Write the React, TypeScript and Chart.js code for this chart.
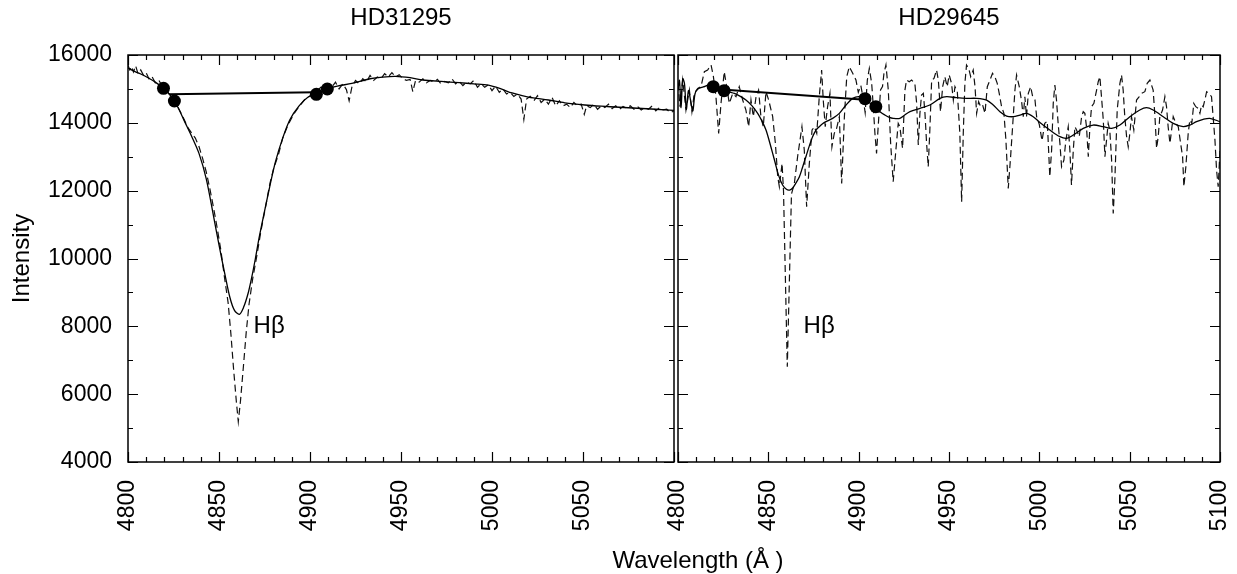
import React, { useEffect, useRef } from "react";
import { Chart, registerables } from "chart.js";

Chart.register(...registerables);

const FONT = "'Liberation Sans', Arial, Helvetica, sans-serif";

// ---------- text ----------
const PANEL_TITLES = ["HD31295", "HD29645"];
const LINE_LABEL = "Hβ";
const X_TITLE = "Wavelength (Å )";
const Y_TITLE = "Intensity";

// ---------- ticks ----------
const X_TICKS = [4800, 4850, 4900, 4950, 5000, 5050, 5100];
const Y_TICKS = [4000, 6000, 8000, 10000, 12000, 14000, 16000];
const X_MINOR_STEP = 10;
const Y_MINOR_STEP = 1000;

// ---------- HD31295 (left) ----------
const L_OBS_WL = [
  4800, 4801, 4802, 4803, 4804.2, 4805.5, 4807, 4808.5, 4810, 4811.5, 4813, 4815, 4817, 4819, 4821, 4823, 4825, 4827, 4829, 4831,
  4833, 4835, 4837, 4839, 4841, 4843, 4845, 4847, 4849, 4851, 4853, 4855, 4856.5, 4858, 4859.5, 4860.6, 4861.8, 4863.4, 4865, 4866.5,
  4868.5, 4870.7, 4873, 4875.5, 4878, 4880, 4882.6, 4885, 4888, 4891, 4894, 4897, 4900, 4902, 4904, 4906, 4908, 4910, 4912, 4914,
  4916, 4918, 4920, 4921.5, 4923, 4925, 4927, 4929, 4931, 4933, 4935, 4937, 4939, 4941, 4943, 4945, 4947, 4949, 4951, 4953,
  4955, 4956.5, 4958, 4960, 4962, 4964, 4966, 4968, 4970, 4972, 4974, 4976, 4978, 4980, 4982, 4984, 4986, 4988, 4990, 4992,
  4994, 4996, 4998, 5000, 5002, 5004, 5006, 5008, 5010, 5012, 5014, 5016, 5017.5, 5019, 5021, 5023, 5025, 5027, 5029, 5031,
  5033, 5035, 5037, 5039, 5041, 5043, 5045, 5047, 5049, 5050.7, 5052, 5054, 5056, 5058, 5060, 5062, 5064, 5066, 5068, 5070,
  5072, 5074, 5076, 5078, 5080, 5082, 5084, 5086, 5088, 5090, 5092, 5094, 5096, 5098, 5100,
];
const L_OBS_I = [
  15700, 15560, 15660, 15500, 15680, 15450, 15560, 15400, 15470, 15300, 15380, 15180, 15250, 15060, 14960, 14820, 14700, 14500, 14300, 14080,
  13850, 13700, 13550, 13300, 12950, 12550, 12050, 11500, 10900, 10250, 9450, 8700, 7800, 6750, 5800, 5190, 5800, 6810, 7850, 8650,
  9400, 10054, 10800, 11500, 12217, 12650, 13050, 13550, 13950, 14250, 14480, 14680, 14800, 14870, 14950, 15050, 15000, 15150, 15050, 15200,
  15000, 15150, 14980, 14650, 15050, 15250, 15150, 15300, 15200, 15400, 15250, 15350, 15300, 15450, 15350, 15480, 15350, 15420, 15300, 15250,
  15280, 14920, 15250, 15200, 15300, 15180, 15250, 15200, 15280, 15150, 15220, 15180, 15300, 15150, 15220, 15100, 15200, 15150, 15250, 15050,
  15150, 15050, 15120, 14950, 15080, 14900, 15000, 14850, 14900, 14780, 14850, 14700, 14100, 14700, 14780, 14650, 14800, 14600, 14700, 14550,
  14750, 14500, 14650, 14500, 14550, 14450, 14600, 14500, 14550, 14250, 14500, 14450, 14550, 14400, 14500, 14450, 14550, 14420, 14500, 14400,
  14480, 14430, 14500, 14400, 14480, 14380, 14450, 14400, 14500, 14350, 14450, 14380, 14400, 14300, 14350,
];
const L_FIT_WL = [
  4800, 4803, 4807, 4811, 4815, 4819.5, 4822.5, 4825.5, 4828, 4831, 4835, 4839, 4843, 4847, 4850, 4853, 4856, 4858.5, 4861.2, 4863.5,
  4866, 4868, 4870, 4872, 4874.4, 4878, 4881, 4885, 4889, 4894, 4899, 4903.5, 4909.5, 4915, 4923, 4933, 4940, 4947, 4955, 4962,
  4972, 4982, 4990, 4998, 5005, 5011, 5020, 5031, 5040, 5051, 5060, 5070, 5080, 5090, 5100,
];
const L_FIT_I = [
  15620, 15530, 15440, 15330, 15200, 15018, 14860, 14644, 14400, 14050, 13600, 13100, 12350, 11250, 10400, 9600, 8850, 8470, 8356, 8560,
  8975, 9450, 10000, 10600, 11233, 12150, 12850, 13550, 14100, 14500, 14760, 14841, 14998, 15080, 15165, 15300, 15350, 15370, 15330, 15263,
  15220, 15184, 15150, 15110, 15000, 14880, 14760, 14673, 14590, 14526, 14490, 14460, 14430, 14400, 14370,
];
const L_MARK_WL = [4819.5, 4825.5, 4903.5, 4909.5];
const L_MARK_I = [15018, 14644, 14841, 14998];
const L_CONT_WL = [4822.5, 4903.5];
const L_CONT_I = [14840, 14900];

// ---------- HD29645 (right) ----------
const R_OBS_WL = [
  4800, 4801.1, 4802.6, 4804.4, 4806.3, 4807.7, 4809.0, 4810.9, 4812.7, 4814.6, 4816.4, 4818.3, 4819.6, 4821.0, 4822.5, 4823.8, 4825.6, 4826.9, 4828.4, 4830.3,
  4832.1, 4833.9, 4835.8, 4837.6, 4839.1, 4840.4, 4841.7, 4843.2, 4844.6, 4845.9, 4847.2, 4848.7, 4850.2, 4852.4, 4853.9, 4855.2, 4856.1, 4857.6, 4858.4, 4860.5,
  4862.8, 4864.4, 4866.2, 4868.6, 4869.9, 4871.2, 4872.7, 4874.2, 4875.5, 4876.8, 4878.2, 4879.5, 4880.4, 4881.5, 4882.8, 4884.1, 4885.2, 4886.5, 4887.8, 4889.3,
  4890.6, 4892.1, 4893.4, 4894.8, 4896.7, 4898.5, 4899.8, 4901.2, 4902.4, 4903.6, 4904.8, 4905.9, 4907.2, 4908.1, 4909.0, 4909.9, 4910.8, 4912.1, 4913.2, 4914.0,
  4915.1, 4916.4, 4917.7, 4919.1, 4920.6, 4921.9, 4922.8, 4924.3, 4925.6, 4926.5, 4928.0, 4929.3, 4931.1, 4932.1, 4933.0, 4933.9, 4934.8, 4935.8, 4936.7, 4937.6,
  4938.5, 4939.4, 4940.4, 4941.7, 4943.1, 4944.1, 4945.3, 4946.5, 4947.7, 4949.0, 4950.1, 4951.4, 4952.4, 4953.3, 4954.6, 4956.0, 4957.0, 4957.9, 4958.8, 4959.7,
  4960.9, 4962.0, 4963.4, 4964.4, 4965.3, 4966.4, 4967.5, 4968.6, 4969.9, 4971.2, 4972.7, 4974.1, 4975.4, 4976.7, 4977.8, 4979.1, 4980.4, 4981.5, 4982.8, 4984.1,
  4985.2, 4986.5, 4987.4, 4988.9, 4990.2, 4991.1, 4992.0, 4992.9, 4993.9, 4995.2, 4996.3, 4997.6, 4998.5, 5000.0, 5001.5, 5003.0, 5004.4, 5005.8, 5006.8, 5007.7,
  5008.6, 5009.5, 5010.4, 5011.4, 5012.3, 5013.6, 5014.7, 5016.0, 5016.9, 5017.8, 5018.8, 5019.7, 5020.6, 5022.1, 5023.4, 5024.3, 5025.2, 5026.1, 5027.1, 5028.0,
  5028.9, 5030.2, 5031.7, 5032.6, 5033.5, 5034.4, 5035.4, 5036.3, 5037.2, 5038.1, 5039.0, 5040.0, 5040.9, 5041.8, 5043.1, 5044.6, 5045.5, 5046.4, 5047.3, 5048.3,
  5049.2, 5050.1, 5051.0, 5052.3, 5053.8, 5055.3, 5056.6, 5058.4, 5059.7, 5061.2, 5063.0, 5064.0, 5064.9, 5065.8, 5066.7, 5068.2, 5069.5, 5070.4, 5071.3, 5072.3,
  5073.2, 5074.1, 5075.6, 5076.9, 5078.2, 5079.3, 5080.0, 5081.1, 5082.4, 5083.3, 5084.4, 5085.5, 5086.6, 5087.9, 5088.9, 5089.8, 5090.7, 5091.6, 5092.6, 5094.0,
  5095.3, 5096.2, 5097.2, 5098.1, 5099.0, 5100,
];
const R_OBS_I = [
  15164, 14476, 15262, 14377, 14967, 14328, 14869, 15017, 15066, 15508, 15557, 15705, 15361, 14771, 13690, 14574, 15508, 15066, 14574, 14869,
  14771, 15066, 14672, 14377, 13886, 14672, 14181, 14771, 14967, 14181, 13886, 14918, 14672, 14181, 13395, 12412, 12117, 12805, 12000, 6810,
  11900, 12215, 13001, 13886, 13198, 11527, 12805, 13788, 13886, 13690, 14771, 15557, 14672, 13886, 14476, 14869, 13296, 13690, 13837, 14181,
  12215, 14181, 15361, 15655, 15459, 15262, 14900, 15100, 14750, 14300, 15262, 15606, 15164, 14476, 13690, 13100, 13886, 14967, 15066, 15459,
  15705, 14967, 13395, 12264, 13198, 13984, 13886, 13247, 14967, 15262, 15213, 15262, 15164, 14574, 13345, 14279, 14820, 14869, 14279, 13395,
  12707, 13788, 15262, 15311, 15557, 15262, 14328, 15066, 15361, 15066, 15410, 15164, 14672, 15066, 14918, 13690, 11674, 13690, 15164, 15705,
  15606, 15361, 15557, 15066, 14279, 14623, 14476, 14525, 14279, 15066, 15262, 15459, 15361, 15164, 14869, 14476, 14279, 13493, 12068, 13001,
  13886, 14967, 15410, 15066, 14623, 14181, 14771, 14181, 14869, 15066, 14771, 14672, 14181, 13950, 13470, 13984, 14050, 12412, 13198, 14574,
  15115, 14672, 13984, 13395, 12707, 12903, 13493, 13886, 13198, 12166, 13198, 13886, 13788, 13591, 14181, 14328, 14279, 13886, 13001, 13886,
  14476, 14574, 14967, 15213, 15361, 14771, 14083, 13001, 13493, 13984, 13788, 12903, 11330, 12313, 14377, 15164, 15410, 14967, 14181, 13591,
  13296, 13690, 14181, 13788, 14672, 14771, 14869, 14918, 15164, 15262, 14967, 14181, 13247, 13591, 14181, 14377, 14771, 14476, 13886, 13395,
  13788, 14181, 13984, 13886, 13395, 13001, 12117, 12707, 13690, 14083, 13984, 14574, 14476, 14427, 14279, 14525, 14476, 14672, 14918, 14869,
  14771, 14181, 13493, 12608, 12117, 13198,
];
const R_FIT_WL = [
  4800, 4800.8, 4801.7, 4802.6, 4803.6, 4804.6, 4805.8, 4807, 4808.2, 4809.4, 4811, 4814, 4817.3, 4819.5, 4822, 4824.7, 4828, 4831.2, 4834.5, 4837.6,
  4841, 4844.1, 4846.5, 4848.7, 4850.6, 4852.4, 4854, 4855.5, 4857.9, 4860, 4861.8, 4863.5, 4865, 4867.2, 4869, 4870.8, 4872.7, 4874.5, 4876.3, 4878.2,
  4880, 4881.9, 4885.6, 4889.3, 4893, 4896.7, 4900.4, 4903.5, 4906.5, 4909.7, 4912, 4914.5, 4917, 4919.1, 4922.8, 4925.5, 4928.4, 4933.9, 4939.4, 4945,
  4948.7, 4954.2, 4959.7, 4965.3, 4970.8, 4974.5, 4978.2, 4981.9, 4985.6, 4989.3, 4992.9, 4996.6, 5000.3, 5005.8, 5011.4, 5015.1, 5018.8, 5024.3, 5029.8, 5035.4,
  5040, 5044.6, 5050.1, 5055.6, 5059.3, 5063, 5068.6, 5074.1, 5079.6, 5083.3, 5087, 5090.7, 5094.4, 5100,
];
const R_FIT_I = [
  15000, 15250, 14450, 15300, 15150, 14400, 14950, 14650, 14350, 14850, 15000, 15060, 15115, 15066, 15020, 14980, 14920, 14869, 14780, 14672,
  14500, 14279, 14050, 13788, 13450, 13100, 12780, 12480, 12166, 12040, 12019, 12080, 12200, 12412, 12700, 13001, 13320, 13591, 13780, 13886,
  13970, 14034, 14132, 14279, 14525, 14722, 14771, 14700, 14580, 14460, 14320, 14230, 14160, 14132, 14132, 14230, 14328, 14427, 14525, 14722,
  14771, 14741, 14722, 14722, 14672, 14525, 14328, 14201, 14181, 14230, 14279, 14181, 14010, 13788, 13591, 13542, 13640, 13837, 13935, 13886,
  13837, 13935, 14181, 14377, 14447, 14377, 14181, 13984, 13886, 13935, 14034, 14103, 14132, 14034,
];
const R_MARK_WL = [4819.5, 4825.5, 4903.5, 4909.5];
const R_MARK_I = [15066, 14948, 14712, 14476];
const R_CONT_WL = [4822.5, 4903.5];
const R_CONT_I = [14990, 14680];

// ---------- label positions (data units) ----------
const LABEL_WL = [4869, 4869.5];
const LABEL_I = [8000, 8000];

const zip = (xs: number[], ys: number[]) => xs.map((x, i) => ({ x, y: ys[i] }));

function buildConfig(panel: number): any {
  const left = panel === 0;
  const obs = left ? zip(L_OBS_WL, L_OBS_I) : zip(R_OBS_WL, R_OBS_I);
  const fit = left ? zip(L_FIT_WL, L_FIT_I) : zip(R_FIT_WL, R_FIT_I);
  const marks = left ? zip(L_MARK_WL, L_MARK_I) : zip(R_MARK_WL, R_MARK_I);
  const cont = left ? zip(L_CONT_WL, L_CONT_I) : zip(R_CONT_WL, R_CONT_I);

  const panelPlugin = {
    id: "panelDecor" + panel,
    afterDraw(chart: any) {
      const { ctx, chartArea: a } = chart;
      const xs = chart.scales.x;
      const ys = chart.scales.y;
      ctx.save();
      ctx.strokeStyle = "#000";
      ctx.lineWidth = 1.5;
      ctx.strokeRect(a.left, a.top, a.right - a.left, a.bottom - a.top);
      ctx.lineWidth = 1.2;
      ctx.beginPath();
      const xMin = X_TICKS[0];
      const xMax = X_TICKS[X_TICKS.length - 1];
      for (let v = xMin; v <= xMax; v += X_MINOR_STEP) {
        const px = Math.round(xs.getPixelForValue(v)) + 0.5;
        const len = X_TICKS.includes(v) ? 10 : 5;
        ctx.moveTo(px, a.bottom);
        ctx.lineTo(px, a.bottom - len);
        ctx.moveTo(px, a.top);
        ctx.lineTo(px, a.top + len);
      }
      const yMin = Y_TICKS[0];
      const yMax = Y_TICKS[Y_TICKS.length - 1];
      for (let v = yMin; v <= yMax; v += Y_MINOR_STEP) {
        const py = Math.round(ys.getPixelForValue(v)) + 0.5;
        const len = Y_TICKS.includes(v) ? 10 : 5;
        ctx.moveTo(a.left, py);
        ctx.lineTo(a.left + len, py);
        ctx.moveTo(a.right, py);
        ctx.lineTo(a.right - len, py);
      }
      ctx.stroke();
      ctx.fillStyle = "#000";
      ctx.font = `24px ${FONT}`;
      ctx.textAlign = "center";
      ctx.textBaseline = "alphabetic";
      ctx.fillText(PANEL_TITLES[panel], (a.left + a.right) / 2, 25);
      ctx.textAlign = "left";
      ctx.textBaseline = "middle";
      ctx.fillText(LINE_LABEL, xs.getPixelForValue(LABEL_WL[panel]), ys.getPixelForValue(LABEL_I[panel]));
      if (left) {
        ctx.save();
        ctx.translate(22, (a.top + a.bottom) / 2);
        ctx.rotate(-Math.PI / 2);
        ctx.textAlign = "center";
        ctx.textBaseline = "middle";
        ctx.fillText(Y_TITLE, 0, 0);
        ctx.restore();
        ctx.textAlign = "center";
        ctx.textBaseline = "alphabetic";
        ctx.fillText(X_TITLE, 698, 568);
      }
      ctx.restore();
    },
  };

  return {
    type: "line",
    data: {
      datasets: [
        {
          data: marks,
          showLine: false,
          pointRadius: 6.5,
          pointBackgroundColor: "#000",
          pointBorderColor: "#000",
          pointBorderWidth: 0,
        },
        {
          data: cont,
          borderColor: "#000",
          borderWidth: 2,
          pointRadius: 0,
          tension: 0,
        },
        {
          data: fit,
          borderColor: "#000",
          borderWidth: 1.3,
          pointRadius: 0,
          tension: 0.3,
        },
        {
          data: obs,
          borderColor: "#111",
          borderWidth: 1.2,
          borderDash: [7, 4],
          pointRadius: 0,
          tension: 0,
        },
      ],
    },
    options: {
      animation: false,
      responsive: false,
      devicePixelRatio: 1,
      events: [],
      layout: {
        padding: left
          ? { left: 0, right: 1237 - 674, top: 55, bottom: 0 }
          : { left: 678, right: 1237 - 1220, top: 55, bottom: 0 },
      },
      plugins: {
        legend: { display: false },
        tooltip: { enabled: false },
        title: { display: false },
      },
      scales: {
        x: {
          type: "linear",
          min: X_TICKS[0],
          max: X_TICKS[X_TICKS.length - 1],
          afterBuildTicks: (s: any) => {
            s.ticks = X_TICKS.map((v) => ({ value: v }));
          },
          afterFit: (s: any) => {
            s.height = 574 - 462;
            s.paddingLeft = 0;
            s.paddingRight = 0;
          },
          grid: { display: false, drawTicks: false },
          border: { display: false },
          ticks: {
            autoSkip: false,
            maxRotation: 90,
            minRotation: 90,
            padding: 18,
            color: "#000",
            font: { family: FONT, size: 23 },
            callback: (v: any) => (left && v === X_TICKS[X_TICKS.length - 1] ? "" : String(v)),
          },
        },
        y: {
          type: "linear",
          display: left,
          min: Y_TICKS[0],
          max: Y_TICKS[Y_TICKS.length - 1],
          afterBuildTicks: (s: any) => {
            s.ticks = Y_TICKS.map((v) => ({ value: v }));
          },
          afterFit: (s: any) => {
            s.width = left ? 128 : 0;
            s.paddingTop = 0;
            s.paddingBottom = 0;
          },
          grid: { display: false, drawTicks: false },
          border: { display: false },
          ticks: {
            padding: 16,
            color: "#000",
            font: { family: FONT, size: 23 },
            callback: (v: any) => String(v),
          },
        },
      },
    },
    plugins: [panelPlugin],
  };
}

export default function App() {
  const leftRef = useRef<HTMLCanvasElement>(null);
  const rightRef = useRef<HTMLCanvasElement>(null);

  useEffect(() => {
    document.body.style.margin = "0";
    const c1 = new Chart(leftRef.current as HTMLCanvasElement, buildConfig(0));
    const c2 = new Chart(rightRef.current as HTMLCanvasElement, buildConfig(1));
    return () => {
      c1.destroy();
      c2.destroy();
    };
  }, []);

  const canvasStyle: React.CSSProperties = {
    position: "absolute",
    left: 0,
    top: 0,
    width: 1237,
    height: 574,
  };

  return (
    <div style={{ position: "relative", width: 1237, height: 574, background: "#fff" }}>
      <canvas ref={leftRef} width={1237} height={574} style={canvasStyle} />
      <canvas ref={rightRef} width={1237} height={574} style={canvasStyle} />
    </div>
  );
}
